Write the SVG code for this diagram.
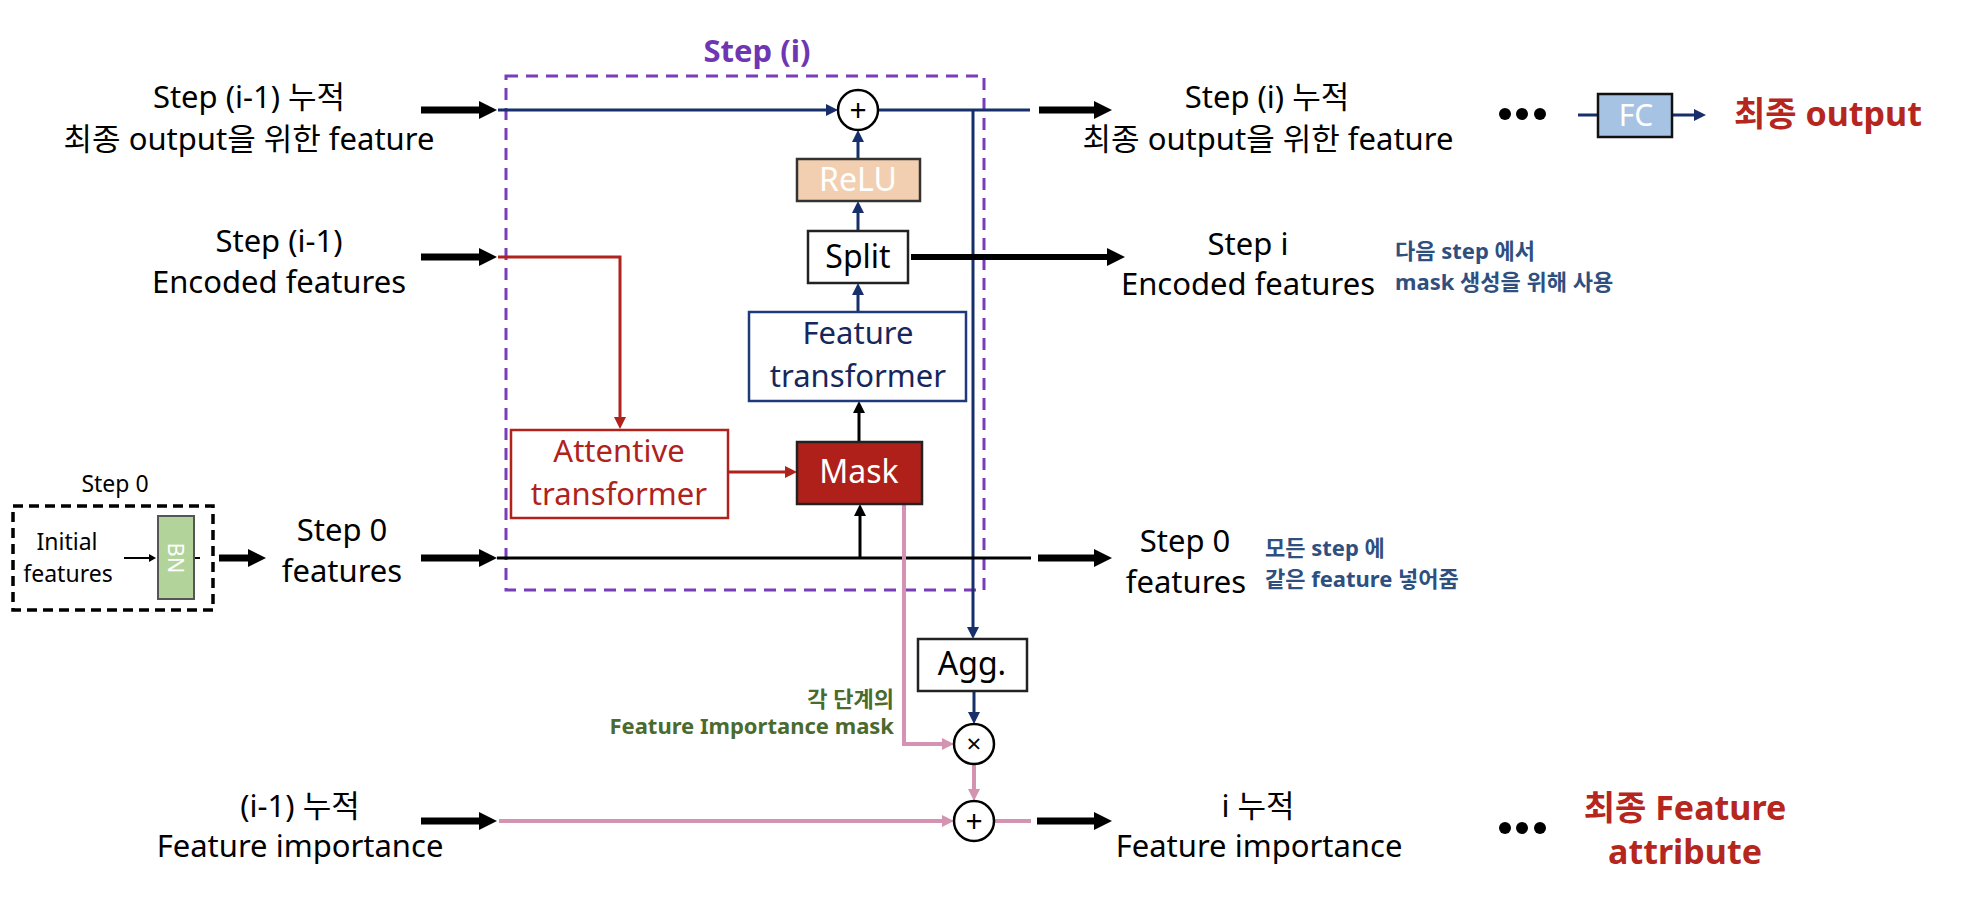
<svg xmlns="http://www.w3.org/2000/svg" width="1970" height="914" viewBox="0 0 1970 914">
<defs>
<style>
text{font-family:"Noto Sans","Noto Sans CJK KR",sans-serif;fill:#000}
.lbl{font-size:31px;text-anchor:middle}
.box{font-size:31px;text-anchor:middle}
.ann{font-size:22px;font-weight:bold;fill:#2F4F7F}
.big{font-size:34px;font-weight:bold;fill:#B5261E;text-anchor:middle}
.navy{stroke:#17306B;stroke-width:3;fill:none}
.blk{stroke:#000;stroke-width:3;fill:none}
.thick{stroke:#000;stroke-width:7;fill:none}
.red{stroke:#B0221C;stroke-width:3;fill:none}
.pink{stroke:#D493B1;stroke-width:4;fill:none}
.op{fill:#fff;stroke:#000;stroke-width:2.5}
</style>
<marker id="ahBig" markerUnits="userSpaceOnUse" markerWidth="19" markerHeight="18" refX="1" refY="9" orient="auto"><path d="M0,0 L18,9 L0,18 z" fill="#000"/></marker>
<marker id="ahNavy" markerUnits="userSpaceOnUse" markerWidth="13" markerHeight="12" refX="1" refY="6" orient="auto"><path d="M0,0 L12,6 L0,12 z" fill="#17306B"/></marker>
<marker id="ahBlk" markerUnits="userSpaceOnUse" markerWidth="13" markerHeight="12" refX="1" refY="6" orient="auto"><path d="M0,0 L12,6 L0,12 z" fill="#000"/></marker>
<marker id="ahRed" markerUnits="userSpaceOnUse" markerWidth="13" markerHeight="12" refX="1" refY="6" orient="auto"><path d="M0,0 L12,6 L0,12 z" fill="#B0221C"/></marker>
<marker id="ahPink" markerUnits="userSpaceOnUse" markerWidth="13" markerHeight="12" refX="1" refY="6" orient="auto"><path d="M0,0 L12,6 L0,12 z" fill="#D493B1"/></marker>
<marker id="ahThin" markerUnits="userSpaceOnUse" markerWidth="8" markerHeight="8" refX="1" refY="4" orient="auto"><path d="M0,0 L7,4 L0,8 z" fill="#000"/></marker>
</defs>
<rect width="1970" height="914" fill="#fff"/>

<g id="step-box">
<rect x="506" y="76" width="478" height="514" fill="none" stroke="#7A3DB8" stroke-width="3" stroke-dasharray="12 8"/>
<text x="757" y="62" style="font-size:31px;font-weight:bold;fill:#6E36B2;text-anchor:middle">Step (i)</text>
</g>

<g id="connectors">
<path class="navy" d="M498,110 H827" marker-end="url(#ahNavy)"/>
<path class="navy" d="M878,110 H1030"/>
<path class="navy" d="M973,110 V628" marker-end="url(#ahNavy)"/>
<path class="navy" d="M858,159 V141" marker-end="url(#ahNavy)"/>
<path class="navy" d="M858,231 V212" marker-end="url(#ahNavy)"/>
<path class="navy" d="M858,312 V294" marker-end="url(#ahNavy)"/>
<path class="navy" d="M974,691 V713" marker-end="url(#ahNavy)"/>
<path class="blk" d="M497,558 H1031"/>
<path class="blk" d="M859,442 V412" marker-end="url(#ahBlk)"/>
<path class="blk" d="M860,558 V515" marker-end="url(#ahBlk)"/>
<path class="red" d="M498,257 H620 V418" marker-end="url(#ahRed)"/>
<path class="red" d="M728,472 H786" marker-end="url(#ahRed)"/>
<path class="pink" d="M904,504 V744 H943" marker-end="url(#ahPink)"/>
<path class="pink" d="M974,764 V790" marker-end="url(#ahPink)"/>
<path class="pink" d="M499,821 H943" marker-end="url(#ahPink)"/>
<path class="pink" d="M994,821 H1031"/>
<path class="thick" d="M421,110 H480" marker-end="url(#ahBig)"/>
<path class="thick" d="M421,257 H480" marker-end="url(#ahBig)"/>
<path class="thick" d="M421,558 H480" marker-end="url(#ahBig)"/>
<path class="thick" d="M421,821 H480" marker-end="url(#ahBig)"/>
<path class="thick" d="M219,558 H249" marker-end="url(#ahBig)"/>
<path class="thick" d="M1039,110 H1095" marker-end="url(#ahBig)"/>
<path class="thick" d="M911,257 H1108" style="stroke-width:6" marker-end="url(#ahBig)"/>
<path class="thick" d="M1038,558 H1095" marker-end="url(#ahBig)"/>
<path class="thick" d="M1037,821 H1095" marker-end="url(#ahBig)"/>
<path d="M124,558 H150" stroke="#000" stroke-width="2" marker-end="url(#ahThin)"/>
<path d="M194,558 H200" stroke="#000" stroke-width="2"/>
<path class="navy" d="M1578,115 H1598"/>
<path class="navy" d="M1672,115 H1695" marker-end="url(#ahNavy)"/>
</g>

<g id="plus-top"><circle class="op" cx="858" cy="110" r="20"/><text x="858" y="121" style="font-size:30px;text-anchor:middle">+</text></g>
<g id="relu"><rect x="797" y="159" width="123" height="42" fill="#F2CFB0" stroke="#333" stroke-width="2.5"/><text class="box" x="858" y="191" style="font-size:32px;fill:#fff">ReLU</text></g>
<g id="split"><rect x="808" y="231" width="100" height="52" fill="#fff" stroke="#222" stroke-width="2.5"/><text class="box" x="858" y="268" style="font-size:32px">Split</text></g>
<g id="feature-transformer"><rect x="749" y="312" width="217" height="89" fill="#fff" stroke="#1F3A7A" stroke-width="2.5"/><text class="box" x="858" y="344" style="fill:#16275C">Feature</text><text class="box" x="858" y="387" style="fill:#16275C">transformer</text></g>
<g id="attentive-transformer"><rect x="511" y="430" width="217" height="88" fill="#fff" stroke="#B0221C" stroke-width="2.5"/><text class="box" x="619" y="462" style="fill:#B0221C">Attentive</text><text class="box" x="619" y="505" style="fill:#B0221C">transformer</text></g>
<g id="mask"><rect x="797" y="442" width="125" height="62" fill="#B0201A" stroke="#222" stroke-width="2.5"/><text class="box" x="859" y="483" style="font-size:32px;fill:#fff">Mask</text></g>
<g id="agg"><rect x="918" y="639" width="109" height="52" fill="#fff" stroke="#222" stroke-width="2.5"/><text class="box" x="972" y="675" style="font-size:32px">Agg.</text></g>
<g id="mult"><circle class="op" cx="974" cy="744" r="20"/><text x="974" y="753" style="font-size:26px;text-anchor:middle">×</text></g>
<g id="plus-bottom"><circle class="op" cx="974" cy="821" r="20"/><text x="974" y="832" style="font-size:30px;text-anchor:middle">+</text></g>

<g id="step0-box">
<rect x="13" y="506" width="200" height="104" fill="none" stroke="#000" stroke-width="3.5" stroke-dasharray="10 6"/>
<text x="115" y="492" style="font-size:23px;text-anchor:middle">Step 0</text>
<text x="67" y="550" style="font-size:23px;text-anchor:middle">Initial</text>
<text x="68" y="582" style="font-size:23px;text-anchor:middle">features</text>
</g>
<g id="bn"><rect x="158" y="516" width="36" height="83" fill="#B2D49B" stroke="#555" stroke-width="2"/><text x="176" y="558" transform="rotate(90 176 558)" dy="8" style="font-size:22px;fill:#fff;text-anchor:middle">BN</text></g>

<g id="in-output"><text class="lbl" x="249" y="108">Step (i-1) 누적</text><text class="lbl" x="249" y="150">최종 output을 위한 feature</text></g>
<g id="in-encoded"><text class="lbl" x="279" y="252">Step (i-1)</text><text class="lbl" x="279" y="293">Encoded features</text></g>
<g id="in-step0"><text class="lbl" x="342" y="541">Step 0</text><text class="lbl" x="342" y="582">features</text></g>
<g id="in-importance"><text class="lbl" x="300" y="817">(i-1) 누적</text><text class="lbl" x="300" y="857">Feature importance</text></g>

<g id="out-output"><text class="lbl" x="1267" y="108">Step (i) 누적</text><text class="lbl" x="1268" y="150">최종 output을 위한 feature</text></g>
<g id="out-encoded"><text class="lbl" x="1248" y="255">Step i</text><text class="lbl" x="1248" y="295">Encoded features</text>
<text class="ann" x="1395" y="259">다음 step 에서</text><text class="ann" x="1395" y="290">mask 생성을 위해 사용</text></g>
<g id="out-step0"><text class="lbl" x="1185" y="552">Step 0</text><text class="lbl" x="1186" y="593">features</text>
<text class="ann" x="1265" y="556">모든 step 에</text><text class="ann" x="1265" y="587">같은 feature 넣어줌</text></g>
<g id="out-importance"><text class="lbl" x="1258" y="817">i 누적</text><text class="lbl" x="1259" y="857">Feature importance</text></g>

<g id="mask-label"><text x="894" y="707" style="font-size:22px;font-weight:bold;fill:#4A6A2E;text-anchor:end">각 단계의</text><text x="894" y="734" style="font-size:22px;font-weight:bold;fill:#4A6A2E;text-anchor:end">Feature Importance mask</text></g>

<g id="dots-top" fill="#000"><circle cx="1505" cy="114" r="6"/><circle cx="1522" cy="114" r="6"/><circle cx="1540" cy="114" r="6"/></g>
<g id="fc"><rect x="1598" y="94" width="74" height="43" fill="#A7C3E3" stroke="#111" stroke-width="2.5"/><text x="1636" y="126" style="font-size:30px;fill:#fff;text-anchor:middle">FC</text></g>
<g id="final-output"><text class="big" x="1828" y="126">최종 output</text></g>
<g id="dots-bottom" fill="#000"><circle cx="1505" cy="828" r="6"/><circle cx="1522" cy="828" r="6"/><circle cx="1540" cy="828" r="6"/></g>
<g id="final-attribute"><text class="big" x="1685" y="820">최종 Feature</text><text class="big" x="1685" y="864">attribute</text></g>
</svg>
